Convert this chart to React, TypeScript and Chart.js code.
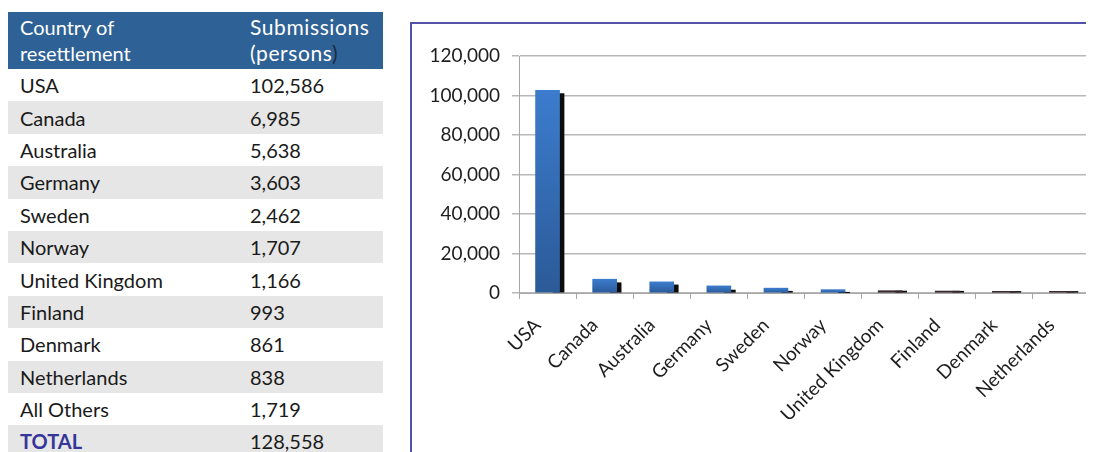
import React, { useEffect, useRef } from "react";
import { Chart, registerables } from "chart.js";

Chart.register(...registerables);

// ---- data ----
const tableCountries = [
  "USA", "Canada", "Australia", "Germany", "Sweden", "Norway",
  "United Kingdom", "Finland", "Denmark", "Netherlands", "All Others",
];
const tableSubmissions = [102586, 6985, 5638, 3603, 2462, 1707, 1166, 993, 861, 838, 1719];
const totalSubmissions = 128558;

const chartCategories = [
  "USA", "Canada", "Australia", "Germany", "Sweden", "Norway",
  "United Kingdom", "Finland", "Denmark", "Netherlands",
];
const submissionsSeries = [102586, 6985, 5638, 3603, 2462, 1707, 1166, 993, 861, 838];
const secondSeries = [101000, 5200, 4100, 1500, 900, 100, 1000, 900, 800, 800];
const yTicks = [0, 20000, 40000, 60000, 80000, 100000, 120000];

// ---- styles ----
const darkBars = ["United Kingdom", "Finland", "Denmark", "Netherlands"];
const FONT = "Lato, 'Open Sans', sans-serif";
const fmt = (n: number) => n.toLocaleString("en-US");

function BarChart() {
  const ref = useRef<HTMLCanvasElement | null>(null);
  useEffect(() => {
    if (!ref.current) return;
    const chart = new Chart(ref.current, {
      type: "bar",
      data: {
        labels: chartCategories,
        datasets: [
          {
            label: "_spacer",
            data: chartCategories.map(() => null),
            stack: "s0",
            barThickness: 24,
          },
          {
            label: "Submissions",
            data: submissionsSeries,
            stack: "s1",
            barThickness: 24,
            backgroundColor: (ctx: any) => {
              const i = ctx.dataIndex;
              if (darkBars.includes(chartCategories[i])) return "#3a2a30";
              const chart = ctx.chart;
              const y = chart.scales?.y;
              if (!y || ctx.type !== "data" || ctx.raw == null) return "#3572c0";
              const top = y.getPixelForValue(ctx.raw);
              const base = y.getPixelForValue(0);
              if (!isFinite(top) || !isFinite(base) || top === base) return "#3572c0";
              const g = chart.ctx.createLinearGradient(0, top, 0, base);
              g.addColorStop(0, "#3c7ccd");
              g.addColorStop(1, "#2b5a98");
              return g;
            },
          },
          {
            label: "Second",
            data: secondSeries,
            stack: "s2",
            barThickness: 11,
            backgroundColor: "#0c0c0c",
          },
        ],
      },
      options: {
        responsive: false,
        animation: false,
        events: [],
        layout: { padding: { top: 32, right: 12, left: 0, bottom: 0 } },
        plugins: { legend: { display: false }, tooltip: { enabled: false }, title: { display: false } },
        scales: {
          x: {
            stacked: false,
            grid: {
              offset: true,
              drawOnChartArea: false,
              drawTicks: true,
              tickLength: 6,
              color: "#a6a6a6",
              lineWidth: 1,
            },
            border: { display: true, color: "#a6a6a6", width: 1 },
            ticks: {
              minRotation: 45,
              maxRotation: 45,
              autoSkip: false,
              padding: 15,
              labelOffset: -10,
              color: "#1e1e1e",
              font: { family: FONT, size: 19 },
            },
            afterFit: (scale: any) => {
              scale.height = 141;
            },
          },
          y: {
            min: 0,
            max: 120000,
            afterBuildTicks: (scale: any) => {
              scale.ticks = yTicks.map((v) => ({ value: v }));
            },
            grid: {
              color: "#b8b8b8",
              lineWidth: 1.5,
              drawTicks: true,
              tickLength: 7,
            },
            border: { display: true, color: "#a6a6a6", width: 1 },
            ticks: {
              padding: 12,
              color: "#1e1e1e",
              font: { family: FONT, size: 19 },
              callback: (v: any) => fmt(Number(v)),
            },
            afterFit: (scale: any) => {
              scale.width = 107;
            },
          },
        },
      },
    } as any);
    return () => chart.destroy();
  }, []);
  return <canvas ref={ref} width={690} height={410} style={{ display: "block" }} />;
}

function DataTable() {
  const rowH = 32.4;
  const cellBase: React.CSSProperties = {
    fontFamily: FONT,
    fontSize: 20,
    color: "#1a1a1a",
    boxSizing: "border-box",
  };
  return (
    <div style={{ position: "absolute", left: 0, top: 4, width: 375 }}>
      <div
        style={{
          background: "#2e6196",
          height: 57,
          display: "flex",
          color: "#fff",
          fontFamily: FONT,
          fontSize: 20,
          lineHeight: "26px",
          boxSizing: "border-box",
          paddingTop: 2,
        }}
      >
        <div style={{ width: 242, paddingLeft: 12, boxSizing: "border-box" }}>
          Country of
          <br />
          resettlement
        </div>
        <div style={{ flex: 1, fontSize: 21, letterSpacing: 0.6 }}>
          Submissions
          <br />
          (persons<span style={{ color: "#1c2b44" }}>)</span>
        </div>
      </div>
      {tableCountries.map((c, i) => (
        <div
          key={c}
          style={{
            height: rowH,
            display: "flex",
            alignItems: "center",
            background: i % 2 === 1 ? "#e6e6e6" : "#ffffff",
          }}
        >
          <div style={{ ...cellBase, width: 242, paddingLeft: 12 }}>{c}</div>
          <div style={{ ...cellBase, flex: 1 }}>{fmt(tableSubmissions[i])}</div>
        </div>
      ))}
      <div
        style={{
          height: rowH,
          display: "flex",
          alignItems: "center",
          background: "#e6e6e6",
        }}
      >
        <div style={{ ...cellBase, width: 242, paddingLeft: 12, fontWeight: 700, color: "#35359a" }}>TOTAL</div>
        <div style={{ ...cellBase, flex: 1 }}>{fmt(totalSubmissions)}</div>
      </div>
    </div>
  );
}

export default function App() {
  return (
    <div style={{ position: "relative", width: 1086, height: 444, overflow: "hidden" }}>
      <style>{`html,body{overflow:hidden}`}</style>
      <DataTable />
      <div
        style={{
          position: "absolute",
          left: 402,
          top: 14,
          width: 720,
          height: 460,
          borderLeft: "2px solid #5252a8",
          borderTop: "2px solid #5252a8",
          background: "#fff",
        }}
      >
        <BarChart />
      </div>
    </div>
  );
}
